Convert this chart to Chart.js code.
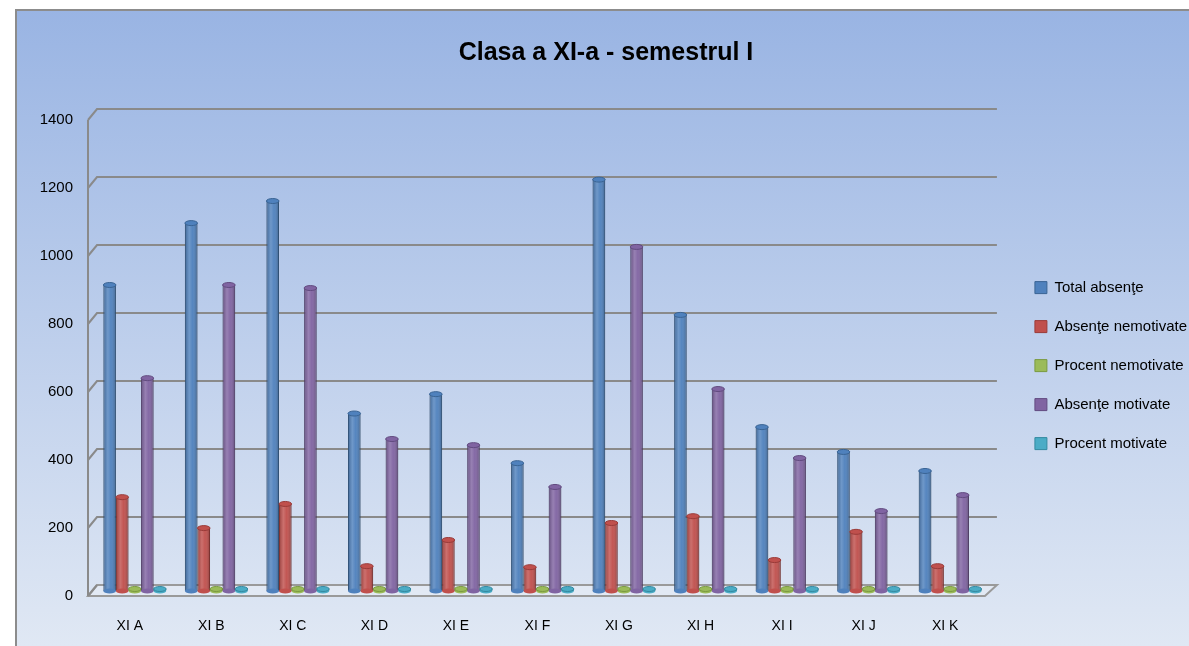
<!DOCTYPE html>
<html>
<head>
<meta charset="utf-8">
<title>Clasa a XI-a - semestrul I</title>
<script src="https://cdn.jsdelivr.net/npm/chart.js@4.4.1/dist/chart.umd.min.js"></script>
<style>
    html, body { margin: 0; padding: 0; background: #fff; }
    #wrap { width: 1189px; height: 646px; }
</style>
</head>
<body>
<div id="wrap"><canvas id="absChart" width="1189" height="646"></canvas></div>
<script>
// Data
const categories = ['XI A', 'XI B', 'XI C', 'XI D', 'XI E', 'XI F', 'XI G', 'XI H', 'XI I', 'XI J', 'XI K'];
const totalAbsente = [900, 1082, 1147, 522, 579, 376, 1210, 812, 482, 409, 353];
const absenteNemotivate = [276, 185, 256, 73, 150, 70, 200, 220, 91, 174, 73];
const procentNemotivate = [0.31, 0.17, 0.22, 0.14, 0.26, 0.19, 0.17, 0.27, 0.19, 0.43, 0.21];
const absenteMotivate = [626, 900, 891, 447, 429, 306, 1012, 594, 391, 235, 282];
const procentMotivate = [0.69, 0.83, 0.78, 0.86, 0.74, 0.81, 0.83, 0.73, 0.81, 0.57, 0.79];
const yTicks = [0, 200, 400, 600, 800, 1000, 1200, 1400];

const FONT = "'Liberation Sans', Arial, sans-serif";

/**
 * Panel background with gradient and grey border
 */
const panelPlugin = {
    id: 'panel',
    beforeDraw(chart) {
        const { ctx, width, height } = chart;
        ctx.save();
        ctx.fillStyle = '#fff';
        ctx.fillRect(0, 0, width, height);
        const g = ctx.createLinearGradient(0, 9, 0, height);
        g.addColorStop(0, '#99b4e3');
        g.addColorStop(1, '#e0e8f4');
        ctx.fillStyle = g;
        ctx.fillRect(15, 9, width - 15, height - 9);
        ctx.strokeStyle = '#8c8c8c';
        ctx.lineWidth = 2;
        ctx.beginPath();
        ctx.moveTo(16, height);
        ctx.lineTo(16, 10);
        ctx.lineTo(width, 10);
        ctx.stroke();
        ctx.restore();
    }
};

/**
 * 3D-looking walls, floor and gridlines
 */
const wallPlugin = {
    id: 'walls',
    beforeDatasetsDraw(chart) {
        const { ctx, chartArea } = chart;
        const y = chart.scales.y;
        const fl = chartArea.left - 6, bl = chartArea.left + 3;
        const fr = chartArea.right - 6, br = chartArea.right + 6;
        const y0 = y.getPixelForValue(0);
        ctx.save();

        // floor
        ctx.fillStyle = 'rgba(228, 234, 244, 0.8)';
        ctx.strokeStyle = '#9a9a9a';
        ctx.lineWidth = 2;
        ctx.beginPath();
        ctx.moveTo(fl, y0 + 5);
        ctx.lineTo(fr, y0 + 5);
        ctx.lineTo(br, y0 - 6);
        ctx.lineTo(bl, y0 - 6);
        ctx.closePath();
        ctx.fill();
        ctx.stroke();

        // gridlines
        ctx.strokeStyle = '#8a8a8a';
        yTicks.forEach(v => {
            const py = y.getPixelForValue(v);
            ctx.beginPath();
            ctx.moveTo(fl, py + 5);
            ctx.lineTo(bl, py - 6);
            if (v > 0) ctx.lineTo(br, py - 6);
            ctx.stroke();
        });

        // left wall edge
        ctx.beginPath();
        ctx.moveTo(fl, y.getPixelForValue(1400) + 5);
        ctx.lineTo(fl, y0 + 5);
        ctx.stroke();
        ctx.restore();
    }
};

/**
 * Shade bars so they look like cylinders
 */
const cylinderPlugin = {
    id: 'cylinders',
    afterDatasetsDraw(chart) {
        const ctx = chart.ctx;
        ctx.save();
        chart.data.datasets.forEach((ds, i) => {
            const meta = chart.getDatasetMeta(i);
            meta.data.forEach(bar => {
                const w = bar.width, x0 = bar.x - w / 2;
                const g = ctx.createLinearGradient(x0, 0, x0 + w, 0);
                g.addColorStop(0, 'rgba(0,0,0,0.22)');
                g.addColorStop(0.35, 'rgba(255,255,255,0.18)');
                g.addColorStop(0.6, 'rgba(255,255,255,0.04)');
                g.addColorStop(1, 'rgba(0,0,0,0.28)');
                ctx.fillStyle = g;
                ctx.fillRect(x0, bar.y, w, bar.base - bar.y);

                // bottom and top caps
                ctx.fillStyle = ds.backgroundColor;
                ctx.beginPath();
                ctx.ellipse(bar.x, bar.base, w / 2, 2.5, 0, 0, Math.PI * 2);
                ctx.fill();
                ctx.beginPath();
                ctx.ellipse(bar.x, bar.y, w / 2, 2.5, 0, 0, Math.PI * 2);
                ctx.fill();
                ctx.strokeStyle = ds.borderColor;
                ctx.lineWidth = 1;
                ctx.stroke();
            });
        });
        ctx.restore();
    }
};

function makeSet(label, data, color, border, minLen) {
    return {
        label: label,
        data: data,
        backgroundColor: color,
        borderColor: border,
        borderWidth: 1,
        minBarLength: minLen || 0,
        barPercentage: 1,
        categoryPercentage: 0.77
    };
}

const ctx = document.getElementById('absChart').getContext('2d');
new Chart(ctx, {
    type: 'bar',
    data: {
        labels: categories,
        datasets: [
            makeSet('Total absenţe', totalAbsente, '#4f81bd', '#3a6494'),
            makeSet('Absenţe nemotivate', absenteNemotivate, '#c0504d', '#9a3b39'),
            makeSet('Procent nemotivate', procentNemotivate, '#9bbb59', '#7a9a40', 2),
            makeSet('Absenţe motivate', absenteMotivate, '#8064a2', '#624b80'),
            makeSet('Procent motivate', procentMotivate, '#4bacc6', '#3389a0', 2)
        ]
    },
    options: {
        responsive: false,
        animation: false,
        layout: { padding: { left: 15, right: -8, top: 0, bottom: 0 } },
        scales: {
            x: {
                grid: { display: false, drawTicks: false },
                border: { display: false },
                ticks: {
                    color: '#000',
                    font: { family: FONT, size: 14 },
                    padding: 27,
                    labelOffset: -5
                },
                afterFit(s) { s.height = 55; }
            },
            y: {
                min: 0,
                max: 1400,
                grid: { display: false, drawTicks: false },
                border: { display: false },
                ticks: {
                    stepSize: 200,
                    color: '#000',
                    font: { family: FONT, size: 15 },
                    padding: 21,
                    labelOffset: 5,
                    callback: v => String(v)
                },
                afterFit(s) { s.width = 79; }
            },
            gap: {
                type: 'linear',
                position: 'right',
                display: true,
                grid: { display: false },
                border: { display: false },
                ticks: { display: false },
                afterFit(s) { s.width = 20; }
            }
        },
        plugins: {
            title: {
                display: true,
                text: 'Clasa a XI-a - semestrul I',
                color: '#000',
                font: { family: FONT, size: 25, weight: 'bold' },
                padding: { top: 38, bottom: 47 }
            },
            legend: {
                position: 'right',
                title: {
                    display: true,
                    text: ' ',
                    font: { size: 1 },
                    padding: { top: 40, bottom: 44 }
                },
                labels: {
                    color: '#000',
                    font: { family: FONT, size: 15 },
                    boxWidth: 12,
                    boxHeight: 12,
                    padding: 24
                }
            },
            tooltip: { enabled: false }
        }
    },
    plugins: [panelPlugin, wallPlugin, cylinderPlugin]
});
</script>
</body>
</html>
